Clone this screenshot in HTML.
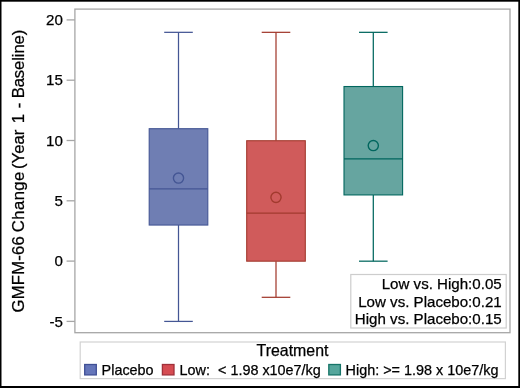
<!DOCTYPE html>
<html><head><meta charset="utf-8"><title>Box plot</title>
<style>
html,body{margin:0;padding:0;background:#fff;}
body{width:520px;height:388px;overflow:hidden;}
svg{display:block;filter:blur(0.35px);}
text{font-family:"Liberation Sans",sans-serif;fill:#000;stroke:#000;stroke-width:0.25px;}
</style></head><body>
<svg width="520" height="388" viewBox="0 0 520 388">
<rect x="0" y="0" width="520" height="388" fill="#000"/>
<rect x="1.5" y="1.7" width="516.8" height="384.3" fill="#fff"/>

<rect x="74.9" y="9.1" width="435.1" height="323.59999999999997" fill="#fff" stroke="#a6a6a6" stroke-width="1.3"/>
<line x1="66.6" x2="74.9" y1="19.9" y2="19.9" stroke="#a6a6a6" stroke-width="1.3"/>
<text x="62.9" y="25.00" font-size="15.1" text-anchor="end">20</text>
<line x1="66.6" x2="74.9" y1="80.2" y2="80.2" stroke="#a6a6a6" stroke-width="1.3"/>
<text x="62.9" y="85.30" font-size="15.1" text-anchor="end">15</text>
<line x1="66.6" x2="74.9" y1="140.5" y2="140.5" stroke="#a6a6a6" stroke-width="1.3"/>
<text x="62.9" y="145.60" font-size="15.1" text-anchor="end">10</text>
<line x1="66.6" x2="74.9" y1="200.8" y2="200.8" stroke="#a6a6a6" stroke-width="1.3"/>
<text x="62.9" y="205.90" font-size="15.1" text-anchor="end">5</text>
<line x1="66.6" x2="74.9" y1="261.1" y2="261.1" stroke="#a6a6a6" stroke-width="1.3"/>
<text x="62.9" y="266.20" font-size="15.1" text-anchor="end">0</text>
<line x1="66.6" x2="74.9" y1="321.4" y2="321.4" stroke="#a6a6a6" stroke-width="1.3"/>
<text x="62.9" y="326.50" font-size="15.1" text-anchor="end">-5</text>
<g transform="translate(24.3,0) rotate(-90)" font-size="16.7">
<text x="-312.5" y="0" letter-spacing="0.2">GMFM-66</text>
<text x="-232.2" y="0" letter-spacing="0.4">Change</text>
<text x="-169.0" y="0">(Year</text>
<text x="-123.3" y="0">1</text>
<text x="-108.3" y="0">-</text>
<text x="-98.3" y="0" letter-spacing="-0.12">Baseline)</text>
</g>
<g stroke="#445694" stroke-width="1.25" fill="none">
<line x1="178.5" x2="178.5" y1="32.33" y2="128.69"/>
<line x1="178.5" x2="178.5" y1="321.41" y2="225.05"/>
<line x1="164.2" x2="192.8" y1="32.33" y2="32.33"/>
<line x1="164.2" x2="192.8" y1="321.41" y2="321.41"/>
<rect x="149.2" y="128.69" width="58.6" height="96.36" fill="#6F7EB3" stroke-width="1.1"/>
<line x1="149.2" x2="207.8" y1="188.91" y2="188.91"/>
<circle cx="178.5" cy="178.07" r="5.1" stroke-width="1.4"/>
</g>
<g stroke="#A23A2E" stroke-width="1.25" fill="none">
<line x1="276.0" x2="276.0" y1="32.33" y2="140.73"/>
<line x1="276.0" x2="276.0" y1="297.31" y2="261.18"/>
<line x1="261.7" x2="290.3" y1="32.33" y2="32.33"/>
<line x1="261.7" x2="290.3" y1="297.31" y2="297.31"/>
<rect x="246.7" y="140.73" width="58.6" height="120.45" fill="#D05B5B" stroke-width="1.1"/>
<line x1="246.7" x2="305.3" y1="213.0" y2="213.0"/>
<circle cx="276.0" cy="197.34" r="5.1" stroke-width="1.4"/>
</g>
<g stroke="#01665E" stroke-width="1.25" fill="none">
<line x1="373.3" x2="373.3" y1="32.33" y2="86.53"/>
<line x1="373.3" x2="373.3" y1="261.18" y2="194.93"/>
<line x1="359.0" x2="387.6" y1="32.33" y2="32.33"/>
<line x1="359.0" x2="387.6" y1="261.18" y2="261.18"/>
<rect x="344.0" y="86.53" width="58.6" height="108.40" fill="#66A5A0" stroke-width="1.1"/>
<line x1="344.0" x2="402.6" y1="158.8" y2="158.8"/>
<circle cx="373.3" cy="145.55" r="5.1" stroke-width="1.4"/>
</g>
<rect x="350.8" y="274.5" width="155.4" height="53.5" fill="#fff" stroke="#cdcdcd" stroke-width="1.2"/>
<text x="501.7" y="289.3" font-size="15.1" text-anchor="end">Low vs. High:0.05</text>
<text x="501.7" y="306.8" font-size="15.1" text-anchor="end">Low vs. Placebo:0.21</text>
<text x="501.7" y="324.3" font-size="15.1" text-anchor="end">High vs. Placebo:0.15</text>
<rect x="80.2" y="342" width="425.2" height="36.6" fill="#fff" stroke="#d2d2d2" stroke-width="1.2"/>
<text x="292.5" y="356.2" font-size="15.9" text-anchor="middle">Treatment</text>
<rect x="84.7" y="364.5" width="11.6" height="10.4" fill="#6576BA" stroke="#3F4F95" stroke-width="1.3"/>
<text x="101.6" y="375.2" font-size="14.4" xml:space="preserve">Placebo</text>
<rect x="162.4" y="364.5" width="11.6" height="10.4" fill="#D64C52" stroke="#A0303A" stroke-width="1.3"/>
<text x="179.6" y="375.2" font-size="14.4" xml:space="preserve">Low:  &lt; 1.98 x10e7/kg</text>
<rect x="328.8" y="364.5" width="11.6" height="10.4" fill="#55A69C" stroke="#167468" stroke-width="1.3"/>
<text x="345.6" y="375.2" font-size="14.4" xml:space="preserve">High: &gt;= 1.98 x 10e7/kg</text>
</svg></body></html>
